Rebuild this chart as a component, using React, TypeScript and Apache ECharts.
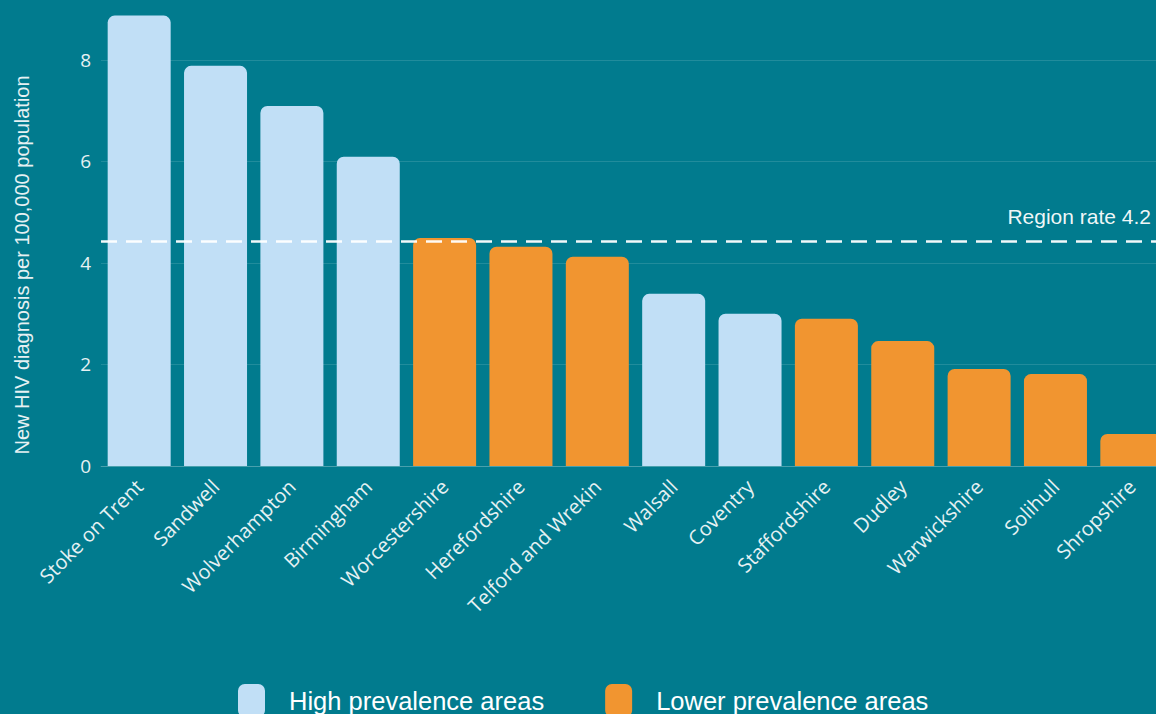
import React, { useEffect, useRef } from "react";
import * as echarts from "echarts";

const categories = [
  "Stoke on Trent", "Sandwell", "Wolverhampton", "Birmingham", "Worcestershire",
  "Herefordshire", "Telford and Wrekin", "Walsall", "Coventry", "Staffordshire",
  "Dudley", "Warwickshire", "Solihull", "Shropshire",
];
const values = [8.87, 7.88, 7.09, 6.09, 4.49, 4.32, 4.12, 3.39, 3.0, 2.9, 2.46, 1.91, 1.81, 0.63];
const highPrevalence = [true, true, true, true, false, false, false, true, true, false, false, false, false, false];
const seriesNames = ["High prevalence areas", "Lower prevalence areas"];
const regionRateLine = 4.43;
const regionRateLabel = "Region rate 4.2";
const yAxisTitle = "New HIV diagnosis per 100,000 population";

const BG = "#017B8E";
const LIGHT = "#C1DFF6";
const ORANGE = "#F19530";

export default function App() {
  const ref = useRef<HTMLDivElement>(null);
  useEffect(() => {
    if (!ref.current) return;
    const chart = echarts.init(ref.current, undefined, { renderer: "svg" });
    const highData = values.map((v, i) => (highPrevalence[i] ? v : "-"));
    const lowData = values.map((v, i) => (!highPrevalence[i] ? v : "-"));
    chart.setOption({
      animation: false,
      backgroundColor: BG,
      grid: { left: 101, right: 0, top: 9, bottom: 248, containLabel: false },
      legend: {
        top: 679,
        left: 233,
        itemWidth: 27,
        itemHeight: 33,
        itemGap: 61,
        icon: "roundRect",
        textStyle: {
          color: "#ffffff",
          fontSize: 25.5,
          lineHeight: 26,
          fontFamily: "Liberation Sans",
          padding: [0, 0, 0, 19],
        },
        data: seriesNames,
      },
      graphic: [
        {
          type: "text",
          x: 22,
          y: 265,
          rotation: Math.PI / 2,
          style: {
            text: yAxisTitle,
            fill: "#E6F1F3",
            font: "20px 'Liberation Sans', Arial, sans-serif",
            align: "center",
            verticalAlign: "middle",
          },
        },
      ],
      xAxis: {
        type: "category",
        data: categories,
        axisTick: { show: false },
        axisLine: { show: true, lineStyle: { color: "rgba(255,255,255,0.18)", width: 1 } },
        axisLabel: {
          rotate: 45,
          interval: 0,
          color: "#E6F1F3",
          fontSize: 20,
          fontFamily: "'Open Sans', sans-serif",
          margin: 17,
        },
      },
      yAxis: {
        type: "value",
        min: 0,
        max: 9,
        interval: 2,
        axisLine: { show: false },
        axisTick: { show: false },
        axisLabel: {
          color: "#E6F1F3",
          fontSize: 19,
          fontFamily: "'Open Sans', sans-serif",
          margin: 10,
          showMaxLabel: false,
        },
        splitLine: { show: true, showMaxLine: false, lineStyle: { color: "rgba(255,255,255,0.13)", width: 1 } },
      },
      series: [
        {
          name: seriesNames[0],
          type: "bar",
          data: highData,
          barWidth: 63,
          barGap: "-100%",
          itemStyle: { color: LIGHT, borderRadius: [7, 7, 0, 0] },
          markLine: {
            symbol: "none",
            silent: true,
            lineStyle: { color: "#ffffff", type: [16, 9], width: 2.5, opacity: 0.95 },
            label: {
              show: true,
              position: "insideEndTop",
              formatter: regionRateLabel,
              color: "#ffffff",
              fontSize: 21,
              fontFamily: "'Liberation Sans', Arial, sans-serif",
              distance: [19, 14],
            },
            data: [{ yAxis: regionRateLine }],
          },
        },
        {
          name: seriesNames[1],
          type: "bar",
          data: lowData,
          barWidth: 63,
          barGap: "-100%",
          itemStyle: { color: ORANGE, borderRadius: [7, 7, 0, 0] },
        },
      ],
    });
    return () => chart.dispose();
  }, []);
  return (
    <div style={{ position: "absolute", left: 0, top: 0, width: 1156, height: 714, overflow: "hidden", background: BG }}>
      <div ref={ref} style={{ width: 1170, height: 714, position: "absolute", left: 0, top: 0 }} />
    </div>
  );
}
